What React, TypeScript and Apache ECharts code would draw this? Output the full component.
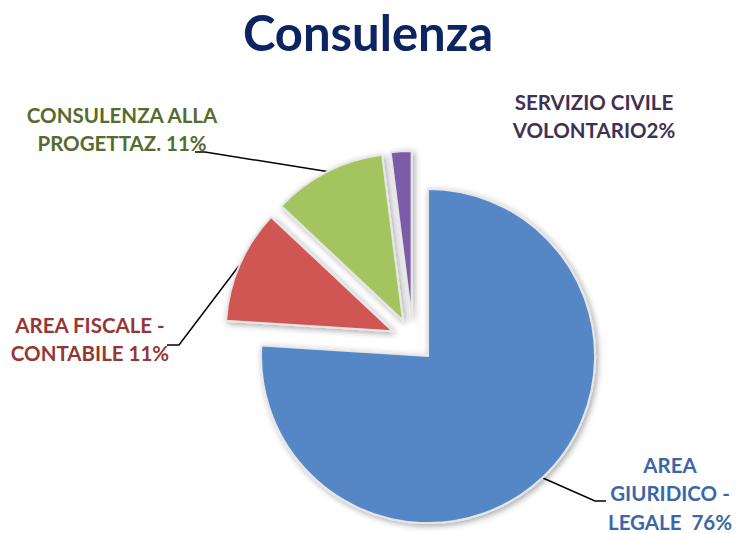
import React, { useEffect, useRef } from "react";
import * as echarts from "echarts";

const categories = [
  "AREA\nGIURIDICO -\nLEGALE\u00a0 ",
  "AREA FISCALE -\nCONTABILE ",
  "CONSULENZA ALLA\nPROGETTAZ. ",
  "SERVIZIO CIVILE\nVOLONTARIO",
];
const values = [76, 11, 11, 2];
const sliceColors = ["#5486C6", "#CF5653", "#A4C460", "#7C5CA6"];
const labelColors = ["#3B67A6", "#953735", "#566B2E", "#3F3151"];

export default function App() {
  const ref = useRef<HTMLDivElement>(null);
  useEffect(() => {
    document.body.style.margin = "0";
    const chart = echarts.init(ref.current!, null, { renderer: "svg" });
    const center = [413, 340];
    const radius = 167;
    const explode = 22;
    const labelPos = [
      { x: 670, y: 493, line: [[595, 501], [606, 501]] },
      { x: 90, y: 339, line: [[179, 345], [167, 345]] },
      { x: 122, y: 129, line: [[205, 152], [195, 152]] },
      { x: 594, y: 116, line: null },
    ];
    const total = values.reduce((a, b) => a + b, 0);
    let cum = 0;
    const series = values.map((v, k) => {
      const midFrac = (cum + v / 2) / total;
      cum += v;
      const ang = midFrac * Math.PI * 2; // clockwise from 12 o'clock
      const c = [center[0] + explode * Math.sin(ang), center[1] - explode * Math.cos(ang)];
      return {
        type: "pie",
        center: c,
        radius,
        startAngle: 90,
        clockwise: true,
        silent: true,
        emphasis: { disabled: true },
        label: {
          show: true,
          fontFamily: "Lato",
          fontWeight: "bold",
          fontSize: 20.5,
          lineHeight: 28.5,
          align: "center",
          formatter: (p: any) => `${p.name}${p.value}%`,
        },
        labelLine: {
          show: true,
          length: 20,
          length2: 10,
          lineStyle: { color: "#000000", width: 1.5 },
        },
        labelLayout: (p: any) => {
          if (p.dataIndex !== k) return {};
          const lp = labelPos[k];
          const out: any = { x: lp.x, y: lp.y, align: "center", verticalAlign: "middle" };
          if (lp.line && p.labelLinePoints) {
            out.labelLinePoints = [p.labelLinePoints[0], lp.line[0], lp.line[1]];
          }
          return out;
        },
        data: values.map((val, i) => {
          const visible = i === k;
          return {
            name: categories[i],
            value: val,
            itemStyle: visible
              ? {
                  color: sliceColors[i],
                  borderColor: "rgba(232,232,232,0.95)",
                  borderWidth: 2,
                  shadowBlur: 6,
                  shadowOffsetX: 2,
                  shadowOffsetY: 2,
                  shadowColor: "rgba(0,0,0,0.35)",
                }
              : { color: "rgba(0,0,0,0)", borderWidth: 0 },
            label: { show: visible, color: labelColors[i] },
            labelLine: { show: visible && i !== 3 },
          };
        }),
      };
    });
    chart.setOption({
      animation: false,
      backgroundColor: "#ffffff",
      title: {
        text: "Consulenza",
        left: "center",
        top: 2,
        textStyle: {
          fontFamily: "Lato",
          fontWeight: "bold",
          fontSize: 49,
          color: "#0C2462",
        },
      },
      series,
    });
    return () => chart.dispose();
  }, []);
  return <div ref={ref} style={{ width: 736, height: 533 }} />;
}
